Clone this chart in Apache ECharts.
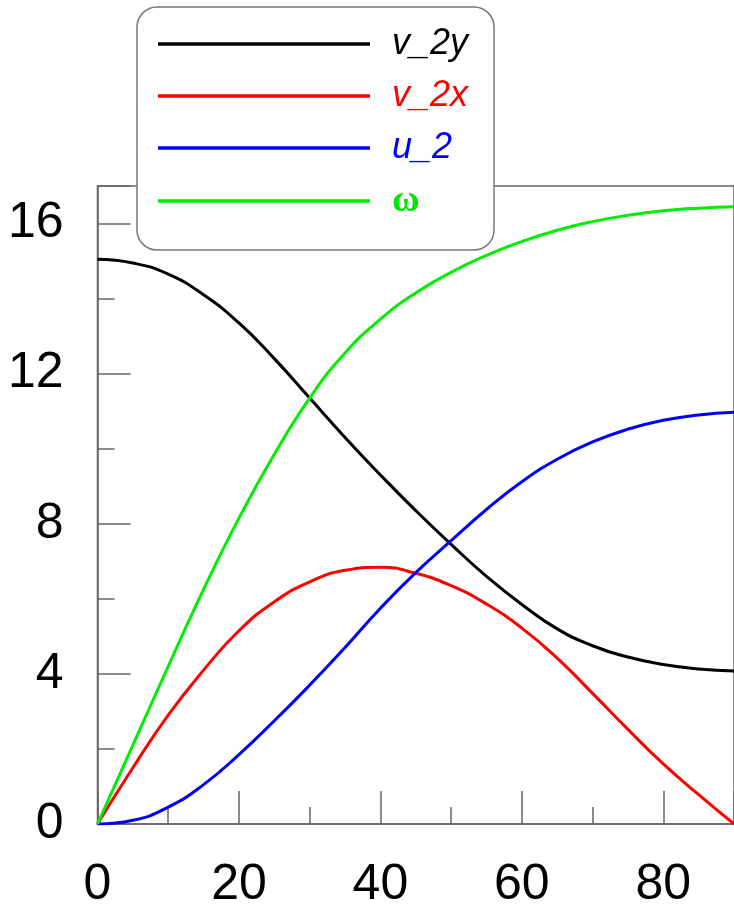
<!DOCTYPE html>
<html>
<head>
<meta charset="utf-8">
<script src="https://cdn.jsdelivr.net/npm/echarts@6/dist/echarts.min.js"></script>
<style>
    html, body { margin: 0; padding: 0; background: #fff; }
    #main { width: 734px; height: 912px; }
</style>
</head>
<body>
<div id="main"></div>
<script>
    var xs = [0, 5, 10, 15, 20, 25, 30, 35, 40, 45, 50, 55, 60, 65, 70, 75, 80, 85, 90];
    var v2y = [15.05, 14.95, 14.65, 14.1, 13.35, 12.4, 11.35, 10.3, 9.3, 8.35, 7.45, 6.6, 5.85, 5.2, 4.75, 4.45, 4.25, 4.13, 4.08];
    var v2x = [0, 1.5, 2.9, 4.1, 5.15, 5.92, 6.45, 6.76, 6.84, 6.68, 6.35, 5.86, 5.22, 4.42, 3.48, 2.52, 1.6, 0.78, 0];
    var u2 = [0, 0.1, 0.45, 1.05, 1.85, 2.75, 3.7, 4.7, 5.75, 6.7, 7.55, 8.38, 9.12, 9.72, 10.18, 10.52, 10.76, 10.9, 10.97];
    var omega = [0, 2.1, 4.2, 6.25, 8.15, 9.85, 11.35, 12.55, 13.45, 14.15, 14.7, 15.15, 15.52, 15.82, 16.05, 16.22, 16.34, 16.41, 16.45];
    var xTicks = [0, 20, 40, 60, 80];
    var yTicks = [0, 4, 8, 12, 16];

    var pairs = function(ys){
        var out = [];
        for (var i = 0; i < xs.length; i++) {
            out.push([xs[i], ys[i]]);
        }
        return out;
    };

    var axisGray = '#666';
    var labelFont = { color: '#000', fontSize: 50, fontFamily: 'Liberation Sans, Arial, sans-serif' };
    var legendFont = 'Liberation Sans, Arial, sans-serif';

    var line = function(name, ys, color){
        return {
            name: name,
            type: 'line',
            data: pairs(ys),
            smooth: 0.5,
            symbol: 'none',
            xAxisIndex: 0,
            yAxisIndex: 0,
            lineStyle: { color: color, width: 3 },
            itemStyle: { color: color }
        };
    };

    var legendText = function(color){
        return { color: color, fontSize: 36, lineHeight: 34, fontStyle: 'italic', fontFamily: legendFont, padding: [0, 0, 0, 17] };
    };

    var option = {
        animation: false,
        backgroundColor: '#fff',
        grid: {
            left: 97.5, right: -4, top: 186, bottom: 88,
            show: true, borderColor: axisGray, borderWidth: 1.5, backgroundColor: 'transparent'
        },
        legend: {
            orient: 'vertical',
            left: 137, top: 7,
            padding: [19, 26, 30, 21],
            itemGap: 16,
            itemWidth: 212,
            itemHeight: 3.5,
            icon: 'rect',
            backgroundColor: '#fff',
            borderColor: '#777',
            borderWidth: 1.5,
            borderRadius: 20,
            textStyle: legendText('#000'),
            data: [
                { name: 'v_2y', textStyle: legendText('#000') },
                { name: 'v_2x', textStyle: legendText('#ff0000') },
                { name: 'u_2', textStyle: legendText('#0000ff') },
                { name: 'ω', textStyle: { color: '#00e600', fontStyle: 'normal', fontWeight: 'bold', fontSize: 38, lineHeight: 34, fontFamily: 'Liberation Serif, serif', padding: [0, 0, 0, 17] } }
            ]
        },
        xAxis: [
            {   // minor ticks every 10
                type: 'value', min: 0, max: 90, interval: 10, position: 'bottom',
                axisLine: { show: true, lineStyle: { color: axisGray, width: 1.5 } },
                axisTick: { show: true, inside: true, length: 17, lineStyle: { color: axisGray, width: 1.5 } },
                axisLabel: { show: false },
                splitLine: { show: false }
            },
            {   // major ticks + labels every 20
                type: 'value', min: 0, max: 90, interval: 20, position: 'bottom', offset: 0,
                axisLine: { show: false },
                axisTick: { show: true, inside: true, length: 33, lineStyle: { color: axisGray, width: 1.5 } },
                axisLabel: {
                    show: true, margin: 36,
                    color: labelFont.color, fontSize: labelFont.fontSize, fontFamily: labelFont.fontFamily,
                    customValues: xTicks
                },
                splitLine: { show: false }
            }
        ],
        yAxis: [
            {
                type: 'value', min: 0, max: 17, interval: 2, position: 'left',
                axisLine: { show: true, lineStyle: { color: axisGray, width: 1.5 } },
                axisTick: { show: true, inside: true, length: 17, lineStyle: { color: axisGray, width: 1.5 } },
                axisLabel: { show: false },
                splitLine: { show: false }
            },
            {
                type: 'value', min: 0, max: 17, interval: 4, position: 'left', offset: 0,
                axisLine: { show: false },
                axisTick: { show: true, inside: true, length: 33, lineStyle: { color: axisGray, width: 1.5 } },
                axisLabel: {
                    show: true, margin: 34,
                    color: labelFont.color, fontSize: labelFont.fontSize, fontFamily: labelFont.fontFamily,
                    customValues: yTicks
                },
                splitLine: { show: false }
            }
        ],
        series: [
            line('v_2y', v2y, '#000000'),
            line('v_2x', v2x, '#ff0000'),
            line('u_2', u2, '#0000ff'),
            line('ω', omega, '#00ee00')
        ]
    };

    var myChart = echarts.init(document.getElementById('main'));
    myChart.setOption(option);
</script>
</body>
</html>
